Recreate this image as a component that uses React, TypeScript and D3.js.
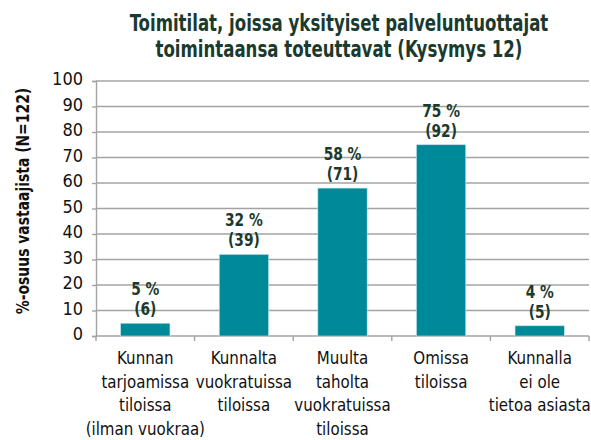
import React, { useEffect, useRef } from 'react';
import * as d3 from 'd3';

const categories = [
  ['Kunnan', 'tarjoamissa', 'tiloissa', '(ilman vuokraa)'],
  ['Kunnalta', 'vuokratuissa', 'tiloissa'],
  ['Muulta', 'taholta', 'vuokratuissa', 'tiloissa'],
  ['Omissa', 'tiloissa'],
  ['Kunnalla', 'ei ole', 'tietoa asiasta'],
];
const percents = [5, 32, 58, 75, 4];
const counts = [6, 39, 71, 92, 5];
const yTicks = [0, 10, 20, 30, 40, 50, 60, 70, 80, 90, 100];
const titleLines = ['Toimitilat, joissa yksityiset palveluntuottajat', 'toimintaansa toteuttavat (Kysymys 12)'];
const yLabel = '%-osuus vastaajista (N=122)';

const FONT = "'DejaVu Sans Condensed', 'Liberation Sans Narrow', sans-serif";
const DARK = '#1a3a2d';
const GRID = '#a3a3a3';

const App: React.FC = () => {
  const ref = useRef<SVGSVGElement>(null);

  useEffect(() => {
    if (!ref.current) return;
    const svg = d3.select(ref.current);
    svg.selectAll('*').remove();

    const width = 591, height = 440;
    const m = { left: 96, right: 2, top: 81, bottom: 104 };

    const idx = categories.map((_, i) => String(i));
    const x = d3.scaleBand().domain(idx).range([m.left, width - m.right]).paddingInner(0.5).paddingOuter(0.25);
    const xOuter = d3.scaleBand().domain(idx).range([m.left, width - m.right]);
    const y = d3.scaleLinear().domain([0, 100]).range([height - m.bottom, m.top]);

    // narrow text: real text squeezed horizontally to mimic a condensed face
    const txt = (g: any, tx: number, ty: number, s: string, sx: number) =>
      g.append('text').attr('transform', `translate(${tx},${ty}) scale(${sx},1)`).text(s);

    const title = svg.append('g').attr('font-family', FONT).attr('font-weight', 'bold')
      .attr('font-size', 23.5).attr('fill', DARK).attr('text-anchor', 'middle');
    titleLines.forEach((t, i) => txt(title, 339, 31 + i * 25.5, t, 0.785));

    // gridlines
    svg.append('g').selectAll('line').data(yTicks.filter(t => t > 0)).enter().append('line')
      .attr('x1', m.left).attr('x2', width - m.right)
      .attr('y1', d => y(d)).attr('y2', d => y(d))
      .attr('stroke', GRID).attr('stroke-width', 1.4);

    // y axis
    const yAxis = svg.append('g').attr('transform', `translate(${m.left},0)`)
      .call(d3.axisLeft(y).tickValues(yTicks).tickSize(4).tickPadding(9));
    yAxis.select('.domain').attr('stroke', GRID).attr('stroke-width', 1.4);
    yAxis.selectAll('line').attr('stroke', GRID).attr('stroke-width', 1.4);
    yAxis.selectAll('text').attr('font-family', FONT).attr('font-size', 18).attr('fill', '#111')
      .attr('dy', '0.2em');

    // x axis
    const xAxisG = svg.append('g').attr('transform', `translate(0,${y(0)})`);
    xAxisG.append('line').attr('x1', m.left).attr('x2', width - m.right)
      .attr('stroke', GRID).attr('stroke-width', 1.4);
    xAxisG.selectAll('.tk').data(d3.range(categories.length + 1)).enter().append('line')
      .attr('x1', d => m.left + d * xOuter.step()).attr('x2', d => m.left + d * xOuter.step())
      .attr('y1', 0).attr('y2', 5).attr('stroke', GRID).attr('stroke-width', 1.4);

    // bars
    svg.append('g').selectAll('rect').data(percents).enter().append('rect')
      .attr('x', (_, i) => x(String(i)) || 0)
      .attr('y', d => y(d))
      .attr('width', x.bandwidth())
      .attr('height', d => y(0) - y(d))
      .attr('fill', '#008a99').attr('stroke', '#bfe3e6').attr('stroke-width', 0.6);

    // value labels
    const lab = svg.append('g').attr('font-family', FONT).attr('font-weight', 'bold')
      .attr('font-size', 18).attr('fill', DARK).attr('text-anchor', 'middle');
    percents.forEach((p, i) => {
      const cx = (x(String(i)) || 0) + x.bandwidth() / 2;
      txt(lab, cx, y(p) - 28, `${p} %`, 0.85);
      txt(lab, cx, y(p) - 8, `(${counts[i]})`, 0.85);
    });

    // category labels
    const cat = svg.append('g').attr('font-family', FONT).attr('font-size', 18)
      .attr('fill', '#111').attr('text-anchor', 'middle');
    categories.forEach((lines, i) => {
      const cx = (x(String(i)) || 0) + x.bandwidth() / 2;
      lines.forEach((ln, j) => txt(cat, cx, 364 + j * 23.5, ln, 0.93));
    });

    // y label
    svg.append('text')
      .attr('transform', `translate(29,201) rotate(-90) scale(0.86,1)`)
      .attr('text-anchor', 'middle').attr('font-family', FONT).attr('font-weight', 'bold')
      .attr('font-size', 18).attr('fill', '#111').text(yLabel);
  }, []);

  return (
    <svg ref={ref} width={591} height={440} viewBox="0 0 591 440"
      style={{ position: 'absolute', left: 0, top: 0, background: '#fff' }} />
  );
};

export default App;
